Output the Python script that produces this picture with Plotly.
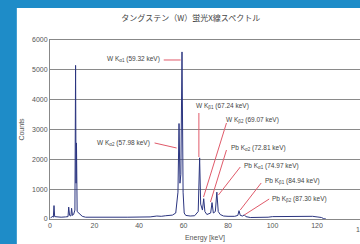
import plotly.graph_objects as go

# ---- data ----
energy = [0.3, 1.0, 1.5, 1.8, 2.1, 3.0, 5.0, 7.0, 8.1, 8.4, 8.8, 9.4, 9.7, 10.1, 10.6, 11.2, 11.5, 11.7, 11.9, 12.2,
          12.8, 13.5, 14.5, 16, 20, 25, 30, 35, 40, 45, 48, 50, 52, 55, 56.5, 57.5, 57.98, 58.4, 58.8, 59.32,
          59.8, 60.3, 61, 63, 65, 66.6, 67.24, 67.7, 68.5, 69.07, 69.6, 70.5, 72.2, 72.81, 73.4, 74.3, 74.97,
          75.6, 76.5, 78, 80, 83, 84.4, 84.94, 85.5, 86.6, 87.3, 88, 90, 95, 98, 100, 105, 110, 115, 118,
          120, 122, 123, 124]
counts = [30, 90, 60, 450, 80, 70, 60, 70, 80, 400, 120, 100, 360, 120, 150, 300, 5150, 1200, 2550, 250,
          200, 150, 90, 60, 55, 50, 55, 60, 65, 70, 100, 90, 110, 130, 200, 900, 3200, 1200, 1500, 5600,
          900, 200, 120, 100, 110, 250, 2050, 500, 300, 680, 250, 150, 200, 550, 200, 250, 900,
          250, 150, 100, 90, 90, 120, 280, 120, 100, 140, 80, 50, 50, 60, 80, 80, 90, 100, 90,
          70, 50, 10, 0]

label_texts = ["W K<sub>α1</sub> (59.32 keV)", "W K<sub>α2</sub> (57.98 keV)", "W K<sub>β1</sub> (67.24 keV)",
               "W K<sub>β2</sub> (69.07 keV)", "Pb K<sub>α2</sub> (72.81 keV)", "Pb K<sub>α1</sub> (74.97 keV)",
               "Pb K<sub>β1</sub> (84.94 keV)", "Pb K<sub>β2</sub> (87.30 keV)"]
label_x = [50.2, 45.7, 64.5, 78.4, 80.6, 86.4, 95.6, 98.8]
label_y = [5365, 2548, 3790, 3319, 2380, 1777, 1274, 670]
label_anchor = ["right", "right", "left", "left", "left", "left", "left", "left"]
line_x0 = [51.1, 47.0, 66.9, 79.3, 79.3, 85.5, 94.9, 98.5]
line_y0 = [5330, 2548, 3553, 3218, 2313, 1743, 1207, 670]
line_x1 = [58.7, 56.9, 66.9, 69.0, 72.1, 75.7, 85.5, 87.3]
line_y1 = [5330, 2380, 2078, 737, 570, 805, 302, 134]

x_ticks = [0, 20, 40, 60, 80, 100, 120]
y_ticks = [0, 1000, 2000, 3000, 4000, 5000, 6000]

XMAX = 139.3
FONT = "Liberation Sans, Arial, Noto Sans CJK JP"
TXT = "#555555"

fig = go.Figure()
fig.add_trace(go.Scatter(x=energy, y=counts, mode="lines",
                         line=dict(color="#2b3580", width=1), showlegend=False, hoverinfo="skip"))

# white panel on blue background
fig.add_shape(type="rect", xref="paper", yref="paper", x0=-0.107, x1=1.1, y0=-0.2, y1=1.179,
              fillcolor="white", line=dict(width=0), layer="below")

for x0, y0, x1, y1 in zip(line_x0, line_y0, line_x1, line_y1):
    fig.add_shape(type="line", x0=x0, y0=y0, x1=x1, y1=y1, xref="x", yref="y",
                  line=dict(color="#e05a6a", width=1))

for t, x, y, a in zip(label_texts, label_x, label_y, label_anchor):
    fig.add_annotation(x=x, y=y, text=t, showarrow=False, xanchor=a, yanchor="middle",
                       font=dict(size=6.5, color="#444444", family=FONT))

# partially visible 140 tick label
fig.add_annotation(x=140 / XMAX, xref="paper", y=0, yref="paper", yshift=-10, text="140",
                   showarrow=False, xanchor="center", yanchor="middle",
                   font=dict(size=7, color=TXT, family=FONT))

fig.update_layout(
    width=360, height=244,
    margin=dict(l=50, r=0, t=40, b=25, autoexpand=False),
    paper_bgcolor="#1e8cc8", plot_bgcolor="rgba(0,0,0,0)",
    title=dict(text="タングステン（W）蛍光X線スペクトル", x=0.53, xanchor="center", y=0.925, yanchor="middle",
               font=dict(size=8, color="#444444", family="Noto Sans CJK JP")),
    font=dict(family=FONT, size=7, color=TXT),
)
fig.update_xaxes(range=[0, XMAX], tickvals=x_ticks, showgrid=False, showline=True, linecolor="#888888",
                 linewidth=1, mirror=True, zeroline=False, ticks="", tickfont=dict(size=7, color=TXT),
                 automargin=False,
                 title=dict(text="Energy [keV]", font=dict(size=7, color=TXT), standoff=6))
fig.update_yaxes(range=[0, 6000], tickvals=y_ticks, showgrid=True, gridcolor="#8a8a8a", gridwidth=1,
                 showline=True, linecolor="#888888", linewidth=1, zeroline=False, ticks="",
                 tickfont=dict(size=7, color=TXT), automargin=False,
                 title=dict(text="Counts", font=dict(size=7, color=TXT), standoff=6))

fig.write_html("out.html", config={"displayModeBar": False},
               post_script="document.body.style.margin='0';")
